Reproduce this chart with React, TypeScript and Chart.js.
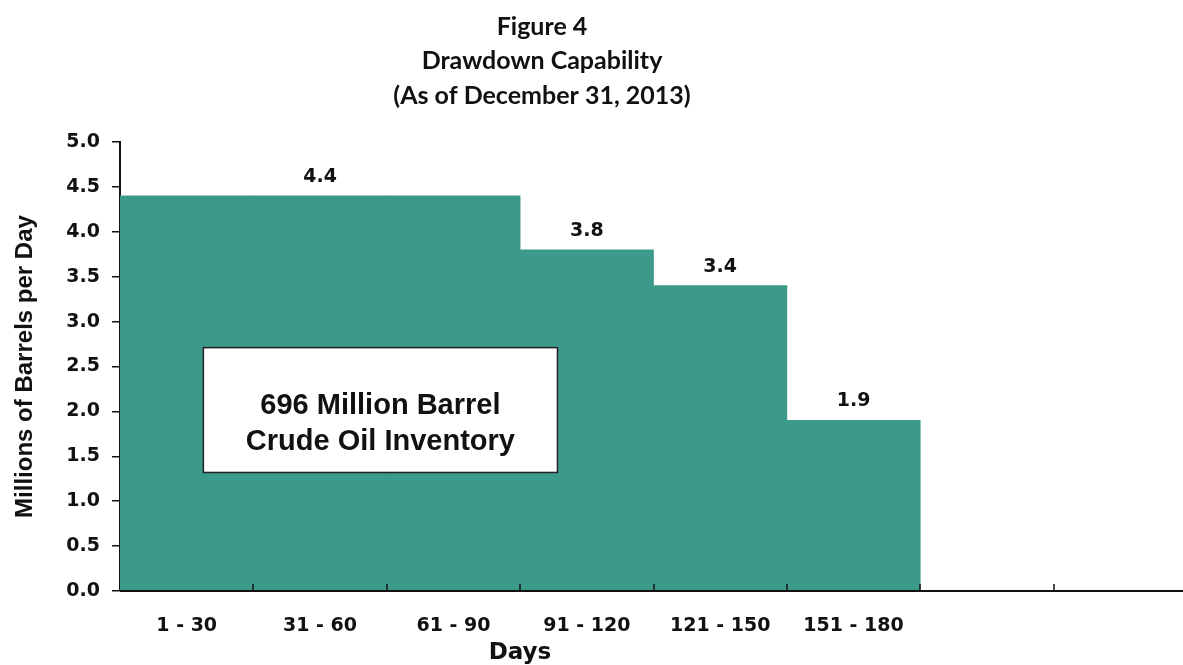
import { useEffect, useRef } from "react";
import { Chart, registerables } from "chart.js";

Chart.register(...registerables);

const categories = ["1 - 30", "31 - 60", "61 - 90", "91 - 120", "121 - 150", "151 - 180", "", ""];
const drawdown: (number | null)[] = [4.4, 4.4, 4.4, 3.8, 3.4, 1.9, null, null];
const valueLabels = ["", "4.4", "", "3.8", "3.4", "1.9", "", ""];
const yTicks = [0, 0.5, 1, 1.5, 2, 2.5, 3, 3.5, 4, 4.5, 5];
const titleLines = ["Figure 4", "Drawdown Capability", "(As of December 31, 2013)"];
const boxLines = ["696 Million Barrel", "Crude Oil Inventory"];
const yTitle = "Millions of Barrels per Day";
const xTitle = "Days";

const BAR_COLOR = "#3c9a8a";
const NUM_FONT = "'DejaVu Sans', sans-serif";

const overlay = {
  id: "overlay",
  afterDatasetsDraw(chart: any) {
    const ctx = chart.ctx as CanvasRenderingContext2D;
    const meta = chart.getDatasetMeta(0);
    const xs = chart.scales.x;
    const ys = chart.scales.y;
    ctx.save();
    // value labels
    ctx.fillStyle = "#111";
    ctx.font = `bold 19px ${NUM_FONT}`;
    ctx.textAlign = "center";
    ctx.textBaseline = "middle";
    meta.data.forEach((bar: any, i: number) => {
      if (!valueLabels[i]) return;
      ctx.fillText(valueLabels[i], bar.x, bar.y - 19);
    });
    // annotation box
    const left = xs.getPixelForValue(0.125);
    const right = xs.getPixelForValue(2.78);
    const top = ys.getPixelForValue(2.71);
    const bottom = ys.getPixelForValue(1.32);
    ctx.fillStyle = "#ffffff";
    ctx.fillRect(left, top, right - left, bottom - top);
    ctx.strokeStyle = "#222";
    ctx.lineWidth = 1.5;
    ctx.strokeRect(left, top, right - left, bottom - top);
    ctx.fillStyle = "#111";
    ctx.font = "bold 29px 'Liberation Sans', Arial, sans-serif";
    const cx = (left + right) / 2;
    ctx.fillText(boxLines[0], cx, top + 58);
    ctx.fillText(boxLines[1], cx, top + 94);
    ctx.restore();
  },
  afterDraw(chart: any) {
    const ctx = chart.ctx as CanvasRenderingContext2D;
    const xs = chart.scales.x;
    const area = chart.chartArea;
    ctx.save();
    // x axis line to the right edge
    ctx.strokeStyle = "#111";
    ctx.lineWidth = 2;
    ctx.beginPath();
    ctx.moveTo(area.left, area.bottom);
    ctx.lineTo(chart.width, area.bottom);
    ctx.stroke();
    // inward x ticks at category boundaries
    ctx.lineWidth = 1.5;
    for (let i = 1; i < categories.length; i++) {
      const x = Math.round((xs.getPixelForTick(i - 1) + xs.getPixelForTick(i)) / 2);
      ctx.beginPath();
      ctx.moveTo(x, area.bottom);
      ctx.lineTo(x, area.bottom - 7);
      ctx.stroke();
    }
    // main title
    ctx.fillStyle = "#111";
    ctx.textAlign = "center";
    ctx.textBaseline = "middle";
    ctx.font = "bold 25px Lato, 'Open Sans', sans-serif";
    const tys = [27, 61, 96];
    titleLines.forEach((t, i) => ctx.fillText(t, 542, tys[i]));
    // x title
    ctx.font = `bold 23px ${NUM_FONT}`;
    ctx.fillText(xTitle, 520, area.bottom + 62);
    ctx.restore();
  },
};

export default function App() {
  const ref = useRef<HTMLCanvasElement | null>(null);
  useEffect(() => {
    document.documentElement.style.overflow = "hidden";
    document.body.style.margin = "0";
    document.body.style.overflow = "hidden";
    if (!ref.current) return;
    const chart = new Chart(ref.current, {
      type: "bar",
      data: {
        labels: categories,
        datasets: [
          {
            data: drawdown,
            backgroundColor: BAR_COLOR,
            borderWidth: 0,
            categoryPercentage: 1,
            barPercentage: 1,
          },
        ],
      },
      options: {
        responsive: false,
        animation: false,
        events: [],
        layout: { padding: { top: 142, right: 0, bottom: 0, left: 0 } },
        plugins: {
          legend: { display: false },
          tooltip: { enabled: false },
          title: { display: false },
        },
        scales: {
          x: {
            z: 1,
            grid: { display: false },
            border: { display: false },
            ticks: {
              color: "#111",
              font: { family: NUM_FONT, size: 19, weight: "bold" },
              padding: 16,
              maxRotation: 0,
              autoSkip: false,
            },
            afterFit(scale: any) {
              scale.height = 74;
            },
          },
          y: {
            z: 1,
            min: 0,
            max: 5,
            afterBuildTicks(scale: any) {
              scale.ticks = yTicks.map((v) => ({ value: v }));
            },
            grid: {
              display: true,
              drawOnChartArea: false,
              drawTicks: true,
              tickLength: 8,
              color: "#111",
              lineWidth: 1.5,
            },
            border: { display: true, color: "#111", width: 2 },
            ticks: {
              color: "#111",
              font: { family: NUM_FONT, size: 19, weight: "bold" },
              padding: 12,
              callback: (v: any) => Number(v).toFixed(1),
            },
            title: {
              display: true,
              text: yTitle,
              color: "#111",
              font: { family: "'Liberation Sans', Arial, sans-serif", size: 24, weight: "bold" },
              padding: { top: 11, bottom: 0 },
            },
            afterFit(scale: any) {
              scale.width = 120;
            },
          },
        },
      },
      plugins: [overlay],
    });
    return () => chart.destroy();
  }, []);
  return (
    <div
      style={{
        position: "fixed",
        left: 0,
        top: 0,
        width: 1183,
        height: 665,
        overflow: "hidden",
        background: "#fff",
      }}
    >
      <canvas ref={ref} width={1187} height={665} style={{ display: "block" }} />
    </div>
  );
}
